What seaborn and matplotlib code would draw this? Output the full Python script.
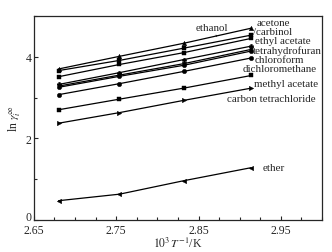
import matplotlib
matplotlib.use("Agg")
import matplotlib.pyplot as plt
import seaborn as sns
import pandas as pd
from matplotlib.ticker import MultipleLocator

sns.set_style("ticks")
plt.rcParams['font.family'] = ['Liberation Serif', 'DejaVu Serif']
plt.rcParams['mathtext.fontset'] = 'stix'

inv_T = [2.680, 2.754, 2.832, 2.914]

ethanol = [3.70, 4.01, 4.33, 4.70]
acetone = [3.66, 3.91, 4.21, 4.53]
carbinol = [3.51, 3.81, 4.10, 4.45]
ethyl_acetate = [3.32, 3.61, 3.93, 4.26]
tetrahydrofuran = [3.28, 3.55, 3.83, 4.18]
chloroform = [3.25, 3.52, 3.79, 4.14]
dichloromethane = [3.07, 3.34, 3.64, 3.97]
methyl_acetate = [2.70, 2.96, 3.23, 3.54]
carbon_tetrachloride = [2.37, 2.63, 2.93, 3.23]
ether = [0.47, 0.63, 0.96, 1.28]

names = ["ethanol", "acetone", "carbinol", "ethyl acetate", "tetrahydrofuran",
         "chloroform", "dichloromethane", "methyl acetate",
         "carbon tetrachloride", "ether"]
series = [ethanol, acetone, carbinol, ethyl_acetate, tetrahydrofuran,
          chloroform, dichloromethane, methyl_acetate, carbon_tetrachloride, ether]
marker_list = ['^', 's', 's', 'P', 'v', 'o', 'o', 's', '>', '<']

rows = []
for n, s in zip(names, series):
    for x, y in zip(inv_T, s):
        rows.append({"x": x, "y": y, "solvent": n})
df = pd.DataFrame(rows)

fig = plt.figure(figsize=(3.32, 2.53), dpi=100)
ax = fig.add_axes([0.102, 0.127, 0.868, 0.806])

sns.lineplot(data=df, x="x", y="y", hue="solvent", style="solvent",
             palette={n: "black" for n in names},
             markers={n: m for n, m in zip(names, marker_list)},
             dashes=False, markersize=3.2, linewidth=0.9,
             markeredgewidth=0.3, markeredgecolor='black',
             legend=False, ax=ax, sort=False)

ax.set_xlim(2.65, 3.0)
ax.set_ylim(0, 5)
ax.set_xticks([2.65, 2.75, 2.85, 2.95])
ax.set_xticklabels(["2.65", "2.75", "2.85", "2.95"])
ax.set_yticks([0, 2, 4])
ax.xaxis.set_minor_locator(MultipleLocator(0.025))
ax.yaxis.set_minor_locator(MultipleLocator(1))
ax.tick_params(axis='both', which='both', direction='in', labelsize=8.5,
               top=False, right=False)
ax.tick_params(axis='x', pad=3)
ax.tick_params(axis='y', pad=1.5)
ax.tick_params(which='major', length=3, width=0.8)
ax.tick_params(which='minor', length=2, width=0.8)
for sp in ax.spines.values():
    sp.set_linewidth(0.9)

ax.set_xlabel(r"$10^3\,T^{-1}$/K", fontsize=8.5, labelpad=0)
ax.set_ylabel(r"ln $\gamma_i^{\infty}$", fontsize=8.5, labelpad=3)

fs = 7.9
labels = [
    ("acetone", 2.921, 4.85, 'left'),
    ("/carbinol", 2.916, 4.62, 'left'),
    ("ethyl acetate", 2.918, 4.39, 'left'),
    ("tetrahydrofuran", 2.916, 4.16, 'left'),
    ("chloroform", 2.918, 3.93, 'left'),
    ("dichloromethane", 2.904, 3.70, 'left'),
    ("methyl acetate", 2.917, 3.34, 'left'),
    ("carbon tetrachloride", 2.885, 2.97, 'left'),
    ("ether", 2.928, 1.29, 'left'),
]
for t, x, y, ha in labels:
    ax.text(x, y, t, fontsize=fs, ha=ha, va='center')

ax.annotate("ethanol", xy=(2.872, 4.50), xytext=(2.866, 4.72),
            fontsize=fs, ha='center', va='center',
            arrowprops=dict(arrowstyle='-', lw=0.6, color='black',
                            shrinkA=2, shrinkB=0))

fig.canvas.draw()
ax.yaxis.get_major_ticks()[0].label1.set_verticalalignment('baseline')

fig.savefig("out.png", dpi=100)
